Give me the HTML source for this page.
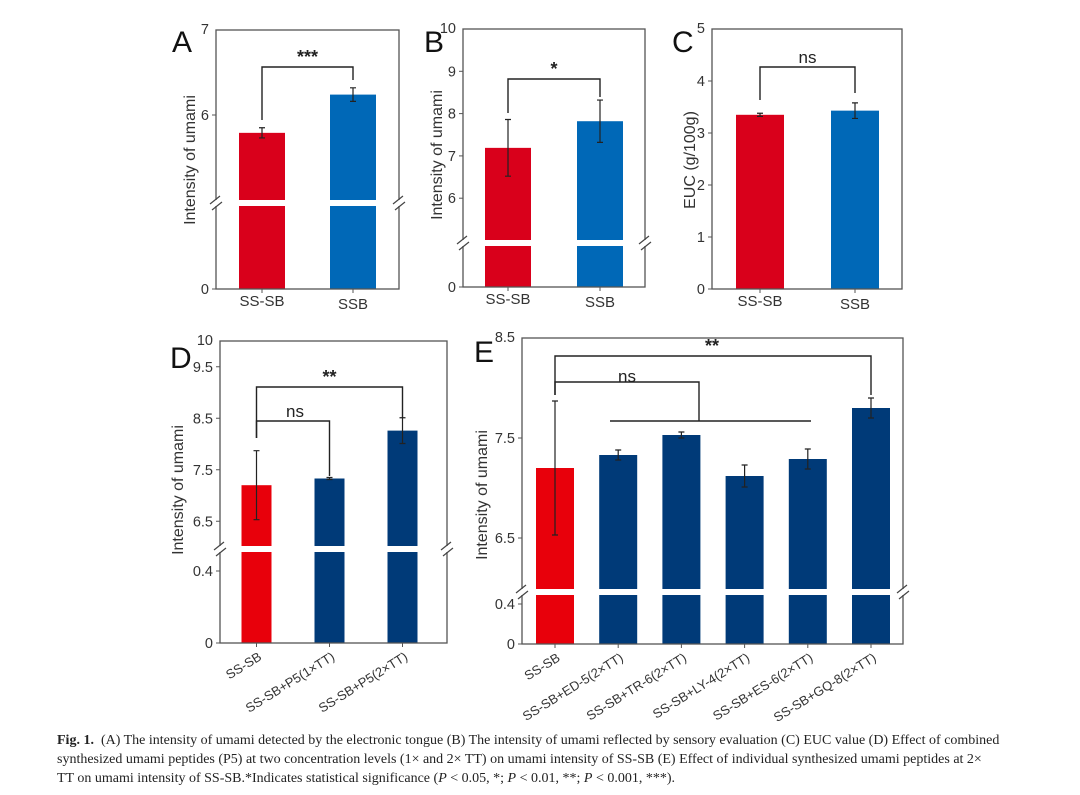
<!DOCTYPE html>
<html><head><meta charset="utf-8"><style>
body{margin:0;background:#fff;width:1080px;height:795px;overflow:hidden}
svg{position:absolute;left:0;top:0}
#cap{position:absolute;left:57px;top:731px;width:1000px;font-family:"Liberation Serif",serif;font-size:14px;line-height:19px;color:#222;white-space:nowrap}
</style></head><body>
<svg id="fig" width="1080" height="730" font-family="Liberation Sans, sans-serif"></svg>
<div id="cap"><b>Fig. 1.</b>&nbsp; (A) The intensity of umami detected by the electronic tongue (B) The intensity of umami reflected by sensory evaluation (C) EUC value (D) Effect of combined<br>synthesized umami peptides (P5) at two concentration levels (1× and 2× TT) on umami intensity of SS-SB (E) Effect of individual synthesized umami peptides at 2×<br>TT on umami intensity of SS-SB.*Indicates statistical significance (<i>P</i> &lt; 0.05, *; <i>P</i> &lt; 0.01, **; <i>P</i> &lt; 0.001, ***).</div>
<script>
// Panel A
const catsA=["SS-SB","SSB"];
const valsA=[5.79,6.24];
const errA=[0.06,0.08];
const ticksA=[6,7];
// Panel B
const catsB=["SS-SB","SSB"];
const valsB=[7.19,7.82];
const errB=[0.67,0.5];
const ticksB=[6,7,8,9,10];
// Panel C
const catsC=["SS-SB","SSB"];
const valsC=[3.35,3.43];
const errC=[0.03,0.15];
const ticksC=[0,1,2,3,4,5];
// Panel D
const catsD=["SS-SB","SS-SB+P5(1×TT)","SS-SB+P5(2×TT)"];
const valsD=[7.2,7.33,8.26];
const errD=[0.67,0.02,0.25];
const ticksD=[6.5,7.5,8.5,9.5,10];
const lowTicksD=[0,0.4];
// Panel E
const catsE=["SS-SB","SS-SB+ED-5(2×TT)","SS-SB+TR-6(2×TT)","SS-SB+LY-4(2×TT)","SS-SB+ES-6(2×TT)","SS-SB+GQ-8(2×TT)"];
const valsE=[7.2,7.33,7.53,7.12,7.29,7.8];
const errE=[0.67,0.05,0.03,0.11,0.1,0.1];
const ticksE=[6.5,7.5,8.5];
const lowTicksE=[0,0.4];

const NS="http://www.w3.org/2000/svg";
const svg=document.getElementById('fig');
function mk(tag,at,parent,txt){const e=document.createElementNS(NS,tag);for(const k in at)e.setAttribute(k,at[k]);if(txt!==undefined)e.textContent=txt;(parent||svg).appendChild(e);return e;}

function panel(p){
  const g=mk('g',{});
  
  
  const yU=v=>p.topY+(p.topV-v)*p.ppu;
  const yL=v=>p.y0-v*p.ppuL;
  const y=v=>(p.brk===null||v>=p.brkV)?yU(v):yL(v);
  const xc=i=>p.c0+i*p.step;
  p.vals.forEach((v,i)=>{
    const col=(i===0)?p.c1:p.c2;
    if(p.brk===null){
      const r=mk('rect',{x:xc(i)-p.bw/2,y:y(v),width:p.bw,height:p.y0-y(v),fill:col},g);
      
      
    }else{
      const r=mk('rect',{x:xc(i)-p.bw/2,y:yU(v),width:p.bw,height:p.brk-3-yU(v),fill:col},g);
      
      
      const r2=mk('rect',{x:xc(i)-p.bw/2,y:p.brk+3,width:p.bw,height:p.y0-p.brk-3,fill:col},g);
      
      
    }
    const e=p.errs[i],x=xc(i);
    const eb=mk('path',{d:`M${x},${y(v+e)}V${y(v-e)}M${x-3},${y(v+e)}H${x+3}M${x-3},${y(v-e)}H${x+3}`,stroke:'#222','stroke-width':1.2,fill:'none'},g);
    
    
  });
  const box=mk('rect',{x:p.x1,y:p.topY,width:p.x2-p.x1,height:p.y0-p.topY,fill:'none',stroke:'#555','stroke-width':1.3},g);
  
  
  if(p.brk!==null){
    mk('rect',{x:p.x1-4,y:p.brk-3,width:8,height:6,fill:'#fff'},g);
    mk('rect',{x:p.x2-4,y:p.brk-3,width:8,height:6,fill:'#fff'},g);
    [p.x1,p.x2].forEach(x=>{
      const bm=mk('path',{d:`M${x-6},${p.brk+1}L${x+4},${p.brk-7}M${x-4},${p.brk+7}L${x+6},${p.brk-1}`,stroke:'#444','stroke-width':1.2},g);
      
      
    });
  }
  const tk=(v,yy)=>{
    mk('line',{x1:p.x1,x2:p.x1-4,y1:yy,y2:yy,stroke:'#555'},g);
    const t=mk('text',{x:p.x1-7,y:yy+5,'text-anchor':'end','font-size':14.5,fill:'#333'},g,String(v));
    
    
  };
  p.ticks.forEach(v=>{ if(v===p.topV){const t=mk('text',{x:p.x1-7,y:p.topY+4,'text-anchor':'end','font-size':14.5,fill:'#333'},g,String(v));} else tk(v,y(v));});
  p.low.forEach(v=>tk(v,yL(v)));
  p.cats.forEach((c,i)=>{
    const x=xc(i);
    mk('line',{x1:x,x2:x,y1:p.y0,y2:p.y0+4,stroke:'#555'},g);
    let t;
    if(p.rot) t=mk('text',{x:x+6,y:p.y0+16,'text-anchor':'end','font-size':13,fill:'#333',transform:`rotate(-32 ${x+6} ${p.y0+16})`},g,c);
    else t=mk('text',{x:x,y:p.y0+17+(i%2)*3,'text-anchor':'middle','font-size':15,fill:'#333'},g,c);
    
    
  });
  const ty=mk('text',{x:0,y:0,'text-anchor':'middle','font-size':16,fill:'#333',transform:`translate(${p.tx},${p.tyc}) rotate(-90)`},g,p.ytitle);
  
  
  const L=mk('text',{x:p.lx,y:p.ly,'font-size':30,fill:'#111'},g,p.id);
  
  
  p.br.forEach(b=>{
    const xa=xc(b.a),xb=xc(b.b);
    const pa=mk('path',{d:`M${xa},${b.ya}V${b.y}H${xb}V${b.yb}`,stroke:'#222','stroke-width':1.4,fill:'none'},g);
    
    
    const t=mk('text',{x:b.tx!==undefined?b.tx:(xa+xb)/2,y:b.y-4,'text-anchor':'middle','font-size':b.lab==='ns'?17:18,'font-weight':b.lab==='ns'?'normal':'bold',fill:'#222'},g,b.lab);
    
    
  });
  return {xc,g};
}
const red='#d9001b',blue='#0068b7',navy='#003a78',red2='#e8000b';
panel({id:'A',cats:catsA,vals:valsA,errs:errA,ticks:ticksA,low:[0],x1:216,x2:399,topY:30,y0:289,topV:7,ppu:85,brk:203,brkV:5,ppuL:1,c0:262,step:91,bw:46,c1:red,c2:blue,
  tx:195,tyc:160,ytitle:'Intensity of umami',lx:172,ly:52,br:[{a:0,b:1,y:67,ya:120,yb:80,lab:'***'}]});
panel({id:'B',cats:catsB,vals:valsB,errs:errB,ticks:ticksB,low:[0],x1:463,x2:645,topY:29,y0:287,topV:10,ppu:42.3,brk:243,brkV:5,ppuL:1,c0:508,step:92,bw:46,c1:red,c2:blue,
  tx:442,tyc:155,ytitle:'Intensity of umami',lx:424,ly:52,br:[{a:0,b:1,y:79,ya:113,yb:97,lab:'*'}]});
panel({id:'C',cats:catsC,vals:valsC,errs:errC,ticks:ticksC,low:[],x1:712,x2:902,topY:29,y0:289,topV:5,ppu:52,brk:null,brkV:0,ppuL:52,c0:760,step:95,bw:48,c1:red,c2:blue,
  tx:695,tyc:160,ytitle:'EUC (g/100g)',lx:672,ly:52,br:[{a:0,b:1,y:67,ya:100,yb:93,lab:'ns'}]});
panel({id:'D',cats:catsD,vals:valsD,errs:errD,ticks:ticksD,low:lowTicksD,x1:220,x2:447,topY:341,y0:643,topV:10,ppu:51.5,brk:549,brkV:5.9,ppuL:180,c0:256.5,step:73,bw:30,c1:red2,c2:navy,rot:true,
  tx:183,tyc:490,ytitle:'Intensity of umami',lx:170,ly:368,br:[{a:0,b:2,y:387,ya:438,yb:418,lab:'**'},{a:0,b:1,y:421,ya:438,yb:476,lab:'ns',tx:295}]});
panel({id:'E',cats:catsE,vals:valsE,errs:errE,ticks:ticksE,low:lowTicksE,x1:522,x2:903,topY:338,y0:644,topV:8.5,ppu:100,brk:592,brkV:5.9,ppuL:100,c0:555,step:63.2,bw:38,c1:red2,c2:navy,rot:true,
  tx:487,tyc:495,ytitle:'Intensity of umami',lx:474,ly:362,br:[{a:0,b:5,y:356,ya:395,yb:395,lab:'**',tx:712}]});
const ensb=mk('path',{d:'M555,395V382H699V421M610,421H811',stroke:'#222','stroke-width':1.4,fill:'none'});


const enst=mk('text',{x:627,y:382,'text-anchor':'middle','font-size':17,fill:'#222'},svg,'ns');


</script>
</body></html>
